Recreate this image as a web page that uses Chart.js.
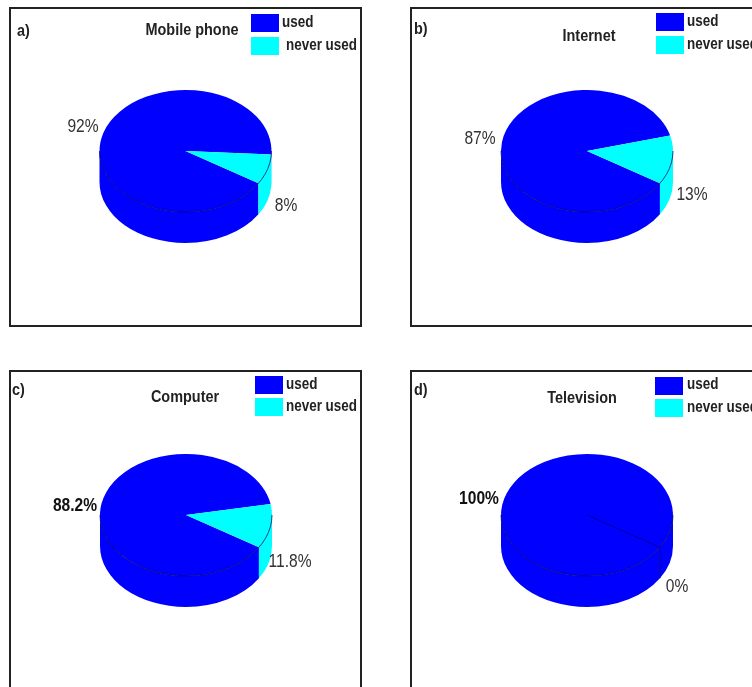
<!DOCTYPE html>
<html>
<head>
<meta charset="utf-8">
<script src="https://cdn.jsdelivr.net/npm/chart.js@4"></script>
<style>
  html, body { margin: 0; padding: 0; background: #fff; overflow: hidden; width: 752px; height: 687px; }
  canvas { position: absolute; left: 0; top: 0; }
</style>
</head>
<body>
<script>
// Survey results: share of respondents who have used each technology.
const categories = ['used', 'never used'];
const letters = ['a)', 'b)', 'c)', 'd)'];
const titles = ['Mobile phone', 'Internet', 'Computer', 'Television'];
const usedValues = [92, 87, 88.2, 100];
const neverUsedValues = [8, 13, 11.8, 0];
const sliceColors = ['#0000ff', '#00ffff'];

// Where each panel's furniture sits on the page.
const panelLayout = [
  { frame: [10, 8, 351, 318], centre: [185.5, 151], letter: [17, 31], title: [192, 30],
    swatches: [251, 14, 251, 37], legendText: [282, 23, 286, 46], valueText: [[83, 127], [286, 206]], bold: [false, false] },
  { frame: [411, 8, 360, 318], centre: [587, 151], letter: [414, 29], title: [589, 36],
    swatches: [656, 13, 656, 36], legendText: [687, 22, 687, 45], valueText: [[480, 139], [692, 195]], bold: [false, false] },
  { frame: [10, 371, 351, 340], centre: [186, 515], letter: [12, 390], title: [185, 397],
    swatches: [255, 376, 255, 398], legendText: [286, 385, 286, 407], valueText: [[75, 506], [290, 562]], bold: [true, false] },
  { frame: [411, 371, 360, 340], centre: [587, 515], letter: [414, 390], title: [582, 398],
    swatches: [655, 377, 655, 399], legendText: [687, 385, 687, 408], valueText: [[479, 499], [677, 587]], bold: [true, false] }
];

const RADIUS = 86;
const TILT = 61 / 86;      // vertical squash of the pie's top face
const DEPTH = 31;          // height of the cylinder wall
const FONT = '"Liberation Sans", Arial, sans-serif';

// No condensed face is available, so text is narrowed horizontally.
function narrowText(ctx, text, x, y, squeeze) {
  ctx.save();
  ctx.translate(x, y);
  ctx.scale(squeeze, 1);
  ctx.fillText(text, 0, 0);
  ctx.restore();
}

function drawWallPiece(ctx, arc, from, to, color) {
  const { x, y, outerRadius: r } = arc;
  ctx.beginPath();
  ctx.ellipse(x, y, r, r * TILT, 0, from, to);
  ctx.ellipse(x, y + DEPTH, r, r * TILT, 0, to, from, true);
  ctx.closePath();
  ctx.fillStyle = color;
  ctx.fill();
}

// Turns the flat pie into a squashed cylinder: wall first, then the
// pie itself under a vertical scale, then rim and seam lines on top.
const cylinderPlugin = {
  id: 'cylinder',
  beforeDatasetsDraw(chart) {
    const ctx = chart.ctx;
    const arcs = chart.getDatasetMeta(0).data;
    arcs.forEach((arc, i) => {
      [0, 2 * Math.PI].forEach(turn => {
        const from = Math.max(arc.startAngle, turn);
        const to = Math.min(arc.endAngle, turn + Math.PI);
        if (to > from) drawWallPiece(ctx, arc, from, to, sliceColors[i]);
      });
    });
    const { x, y } = arcs[0];
    ctx.save();
    ctx.translate(x, y);
    ctx.scale(1, TILT);
    ctx.translate(-x, -y);
  },
  afterDatasetsDraw(chart) {
    const ctx = chart.ctx;
    ctx.restore();
    const arcs = chart.getDatasetMeta(0).data;
    const { x, y, outerRadius: r } = arcs[0];
    ctx.save();
    ctx.strokeStyle = 'rgba(0,0,110,0.75)';
    ctx.lineWidth = 1;
    ctx.beginPath();
    ctx.ellipse(x, y, r, r * TILT, 0, 0, Math.PI);
    ctx.stroke();
    // An empty slice still shows as a seam across the face and down the wall.
    arcs.forEach(arc => {
      if (arc.endAngle - arc.startAngle < 1e-6) {
        const ex = x + r * Math.cos(arc.startAngle);
        const ey = y + r * TILT * Math.sin(arc.startAngle);
        ctx.beginPath();
        ctx.moveTo(x, y);
        ctx.lineTo(ex, ey);
        ctx.lineTo(ex, ey + DEPTH);
        ctx.stroke();
      }
    });
    ctx.restore();
  }
};

// Frame, panel letter, heading, legend and value labels.
const annotationPlugin = {
  id: 'annotation',
  afterDraw(chart, args, opts) {
    const ctx = chart.ctx;
    const p = opts.layout;
    ctx.save();
    ctx.strokeStyle = '#222';
    ctx.lineWidth = 2;
    ctx.strokeRect(...p.frame);

    ctx.textBaseline = 'middle';
    ctx.fillStyle = '#222';
    ctx.textAlign = 'left';
    ctx.font = 'bold 17px ' + FONT;
    narrowText(ctx, opts.letter, p.letter[0], p.letter[1], 0.85);
    ctx.textAlign = 'center';
    narrowText(ctx, opts.title, p.title[0], p.title[1], 0.85);

    categories.forEach((name, i) => {
      ctx.fillStyle = sliceColors[i];
      ctx.fillRect(p.swatches[i * 2], p.swatches[i * 2 + 1], 28, 18);
      ctx.fillStyle = '#222';
      ctx.textAlign = 'left';
      ctx.font = 'bold 16px ' + FONT;
      narrowText(ctx, name, p.legendText[i * 2], p.legendText[i * 2 + 1], 0.84);
    });

    ctx.textAlign = 'center';
    chart.data.datasets[0].data.forEach((value, i) => {
      ctx.fillStyle = p.bold[i] ? '#111' : '#333';
      ctx.font = (p.bold[i] ? 'bold ' : '') + '19px ' + FONT;
      narrowText(ctx, value + '%', p.valueText[i][0], p.valueText[i][1], 0.82);
    });
    ctx.restore();
  }
};

const W = 752, H = 687;
titles.forEach((title, idx) => {
  const p = panelLayout[idx];
  const canvas = document.createElement('canvas');
  canvas.width = W;
  canvas.height = H;
  document.body.appendChild(canvas);
  new Chart(canvas, {
    type: 'pie',
    data: {
      labels: categories,
      datasets: [{
        data: [usedValues[idx], neverUsedValues[idx]],
        backgroundColor: sliceColors,
        borderWidth: 0
      }]
    },
    options: {
      responsive: false,
      animation: false,
      rotation: 122,
      layout: {
        padding: {
          left: p.centre[0] - RADIUS,
          right: W - p.centre[0] - RADIUS,
          top: p.centre[1] - RADIUS,
          bottom: H - p.centre[1] - RADIUS
        }
      },
      plugins: {
        legend: { display: false },
        title: { display: false },
        tooltip: { enabled: false },
        annotation: { layout: p, letter: letters[idx], title }
      }
    },
    plugins: [cylinderPlugin, annotationPlugin]
  });
});
</script>
</body>
</html>
